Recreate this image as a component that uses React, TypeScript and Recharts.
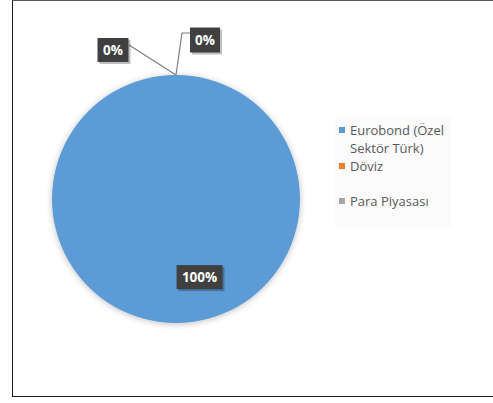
import React from "react";
import { PieChart, Pie, Cell, Legend } from "recharts";

const categories = ["Eurobond (Özel Sektör Türk)", "Döviz", "Para Piyasası"];
const shares = [100, 0, 0];
const colors = ["#5B9BD5", "#ED7D31", "#A5A5A5"];

const data = categories.map((name, i) => ({ name, value: shares[i] }));

const RAD = Math.PI / 180;
const FONT = "'Open Sans', 'Noto Sans', sans-serif";

function LabelBox({ x, y, w, h, text }: { x: number; y: number; w: number; h: number; text: string }) {
  return (
    <g>
      <rect x={x - w / 2 + 2} y={y - h / 2 + 2} width={w} height={h} fill="rgba(0,0,0,0.25)" />
      <rect x={x - w / 2} y={y - h / 2} width={w} height={h} fill="#404040" />
      <text
        x={x}
        y={y}
        textAnchor="middle"
        dominantBaseline="central"
        fill="#ffffff"
        fontSize={13.5}
        fontWeight="bold"
        fontFamily={FONT}
      >
        {text}
      </text>
    </g>
  );
}

const renderLabel = (props: any) => {
  const { cx, cy, midAngle, outerRadius, percent, index } = props;
  const text = `${Math.round(percent * 100)}%`;
  if (index === 0) {
    const r = outerRadius * 0.63;
    const x = cx + r * Math.cos(-midAngle * RAD) + outerRadius * 0.19;
    const y = cy + r * Math.sin(-midAngle * RAD);
    return <LabelBox key={index} x={x} y={y} w={46} h={24} text={text} />;
  }
  // zero slices sit on the rim at the start angle, leader lines out to the boxes
  const ex = cx + outerRadius * Math.cos(-midAngle * RAD);
  const ey = cy + outerRadius * Math.sin(-midAngle * RAD);
  if (index === 1) {
    const bx = ex - 63;
    const by = ey - 25;
    return (
      <g key={index}>
        <polyline points={`${ex},${ey} ${bx + 16},${by - 5}`} fill="none" stroke="#7f7f7f" strokeWidth={1.2} />
        <LabelBox x={bx} y={by} w={31} h={24} text={text} />
      </g>
    );
  }
  const bx = ex + 29;
  const by = ey - 35;
  return (
    <g key={index}>
      <polyline
        points={`${ex},${ey} ${ex + 6},${by - 7} ${bx - 15},${by - 7}`}
        fill="none"
        stroke="#7f7f7f"
        strokeWidth={1.2}
      />
      <LabelBox x={bx} y={by} w={30} h={25} text={text} />
    </g>
  );
};

const renderLegend = () => (
  <div
    style={{
      background: "#fbfbfb",
      width: 116,
      height: 112,
      padding: "5px 0 0 4px",
      boxSizing: "border-box",
      fontFamily: FONT,
      fontSize: 13,
      color: "#595959",
      lineHeight: "18px",
    }}
  >
    {categories.map((c, i) => (
      <div key={c} style={{ display: "flex", alignItems: "flex-start", marginBottom: i === 1 ? 17 : 0 }}>
        <span
          style={{
            width: 6,
            height: 6,
            background: colors[i],
            marginTop: 6,
            marginRight: 5,
            flexShrink: 0,
          }}
        />
        <span style={{ width: 104, whiteSpace: "normal" }}>{c}</span>
      </div>
    ))}
  </div>
);

export default function App() {
  return (
    <div style={{ position: "absolute", left: 0, top: 0, width: 493, height: 403, background: "#fff" }}>
      <div
        style={{
          position: "absolute",
          left: 12,
          top: 0,
          width: 495,
          height: 397,
          borderLeft: "1.5px solid #1a1a1a",
          borderTop: "1px solid #595959",
          borderBottom: "1.5px solid #1a1a1a",
          boxSizing: "border-box",
        }}
      />
      <div style={{ position: "absolute", left: 0, top: 0 }}>
        <PieChart width={493} height={403} margin={{ top: 0, right: 0, bottom: 0, left: 0 }}>
          <defs>
            <filter id="pieShadow" x="-20%" y="-20%" width="140%" height="140%">
              <feDropShadow dx="0" dy="1" stdDeviation="3" floodColor="#000" floodOpacity="0.25" />
            </filter>
          </defs>
          <Pie
            data={data}
            dataKey="value"
            nameKey="name"
            cx={176}
            cy={199}
            outerRadius={124}
            startAngle={90}
            endAngle={-270}
            stroke="none"
            label={renderLabel}
            labelLine={false}
            isAnimationActive={false}
            style={{ filter: "url(#pieShadow)" }}
          >
            {data.map((d, i) => (
              <Cell key={d.name} fill={colors[i]} />
            ))}
          </Pie>
          <Legend
            layout="vertical"
            content={renderLegend}
            wrapperStyle={{ left: 335, top: 116, width: 116 }}
          />
        </PieChart>
      </div>
    </div>
  );
}
